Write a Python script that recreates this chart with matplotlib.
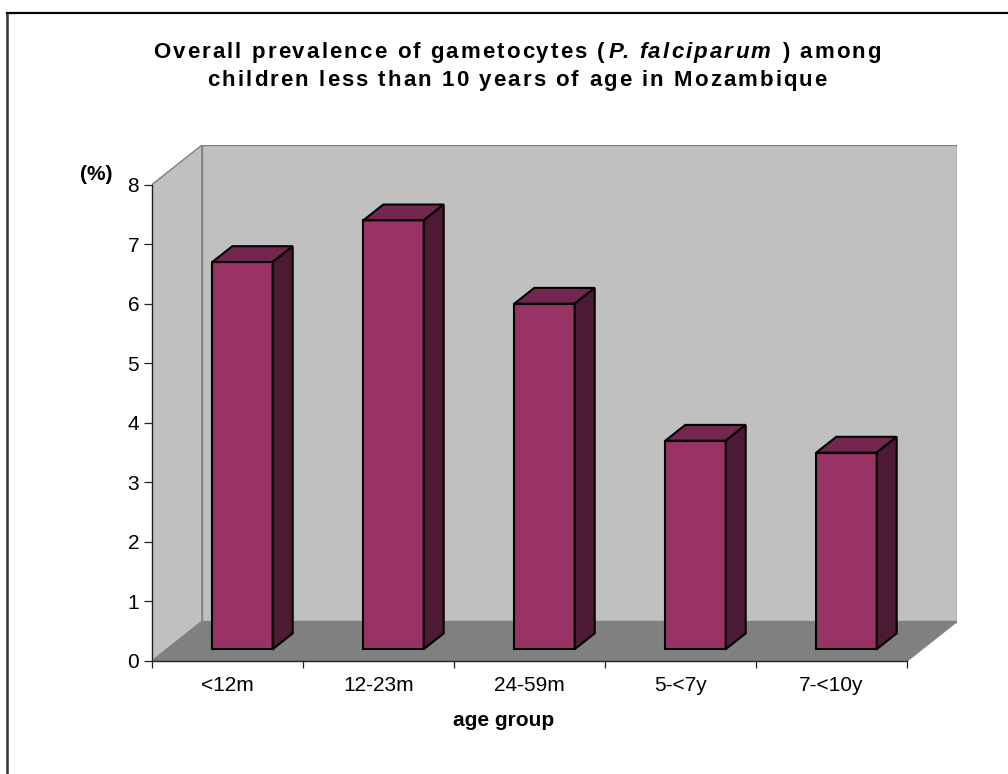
import matplotlib
matplotlib.use("Agg")
import matplotlib.pyplot as plt
from matplotlib.patches import Polygon
from matplotlib.lines import Line2D
from matplotlib.font_manager import FontProperties

# Data
categories = ["<12m", "12-23m", "24-59m", "5-<7y", "7-<10y"]
prevalence = [6.5, 7.2, 5.8, 3.5, 3.3]
y_ticks = [0, 1, 2, 3, 4, 5, 6, 7, 8]

W, H = 1008, 774
FONT = "Liberation Sans"
LABEL_SIZE = 15

fig = plt.figure(figsize=(W / 100, H / 100), dpi=100)
fig.patch.set_facecolor("white")

# Oblique 3D projection: depth offset expressed in data units
DX = 50 / 151.0     # horizontal shift of the back plane (category units)
DY = 39.5 / 59.56   # vertical shift of the back plane (value units)
n = len(categories)
ymax = 8

# Axes placed so the front plane spans the visible axis lines
left_px, right_px = 152, 152 + (n + DX) * 151
bottom_px = H - 661
top_px = bottom_px + (ymax + DY) * 59.56
ax = fig.add_axes([left_px / W, bottom_px / H,
                   (right_px - left_px) / W, (top_px - bottom_px) / H])
ax.set_xlim(0, n + DX)
ax.set_ylim(0, ymax + DY)
ax.patch.set_visible(False)

wall_c = "#c0c0c0"
floor_c = "#808080"
edge_c = "#808080"

# Side wall, back wall and floor
side = Polygon([(0, 0), (DX, DY), (DX, ymax + DY), (0, ymax)],
               closed=True, fc=wall_c, ec=edge_c, lw=1.0, zorder=1)
back = Polygon([(DX, DY), (n + DX, DY), (n + DX, ymax + DY), (DX, ymax + DY)],
               closed=True, fc=wall_c, ec=edge_c, lw=1.0, zorder=1)
floor = Polygon([(0, 0), (n, 0), (n + DX, DY), (DX, DY)],
                closed=True, fc=floor_c, ec=edge_c, lw=1.0, zorder=1)
for p in (side, back, floor):
    ax.add_patch(p)

# 3D bars
front_c, top_c, side_c = "#993366", "#732650", "#4c1a33"
f0, f1 = 0.3, 0.7
half = 0.2
bar_lw = 1.5
for i, v in enumerate(prevalence):
    c = i + 0.5
    xl, xr = c - half + f0 * DX, c + half + f0 * DX
    y0 = f0 * DY
    ddx, ddy = (f1 - f0) * DX, (f1 - f0) * DY
    front = Polygon([(xl, y0), (xr, y0), (xr, y0 + v), (xl, y0 + v)],
                    closed=True, fc=front_c, ec="black", lw=bar_lw, zorder=3,
                    joinstyle="miter")
    top = Polygon([(xl, y0 + v), (xr, y0 + v), (xr + ddx, y0 + v + ddy),
                   (xl + ddx, y0 + v + ddy)],
                  closed=True, fc=top_c, ec="black", lw=bar_lw, zorder=3,
                  joinstyle="miter")
    rside = Polygon([(xr, y0), (xr + ddx, y0 + ddy), (xr + ddx, y0 + v + ddy),
                     (xr, y0 + v)],
                    closed=True, fc=side_c, ec="black", lw=bar_lw, zorder=3,
                    joinstyle="miter")
    for p in (front, top, rside):
        ax.add_patch(p)

# Axis lines and ticks
for s in ("top", "right"):
    ax.spines[s].set_visible(False)
ax.spines["left"].set_bounds(0, ymax)
ax.spines["bottom"].set_bounds(0, n)
for s in ("left", "bottom"):
    ax.spines[s].set_color("#222222")
    ax.spines[s].set_linewidth(1.0)
    ax.spines[s].set_zorder(2.5)

ax.set_yticks(y_ticks)
ax.set_yticklabels([str(t) for t in y_ticks], fontsize=LABEL_SIZE, family=FONT)
ax.tick_params(axis="y", direction="out", length=5.8, width=0.9, pad=3.4,
               color="#222222")
ax.set_xticks(range(n + 1))
ax.set_xticklabels([""] * (n + 1))
ax.set_xticks([i + 0.5 for i in range(n)], minor=True)
ax.set_xticklabels(categories, minor=True, fontsize=LABEL_SIZE, family=FONT)
ax.tick_params(axis="x", which="major", direction="out", length=5, width=0.9,
               color="#222222")
ax.tick_params(axis="x", which="minor", length=0, pad=11)

# Axis titles
fig.text(96 / W, 1 - 175 / H, "(%)", fontsize=LABEL_SIZE, fontweight="bold",
         family=FONT, ha="center", va="center")
fig.text(504 / W, 1 - 720 / H, "age group", fontsize=LABEL_SIZE,
         fontweight="bold", family=FONT, ha="center", va="center")


# Title drawn glyph by glyph so the letters can be spaced out a little
def tracked_line(runs, baseline_px, size, track_px, center_px):
    renderer = fig.canvas.get_renderer()

    def width(s, props):
        return renderer.get_text_width_height_descent(s, props, ismath=False)[0]

    placements = []   # (x offset px, char, props)
    cursor = 0.0
    for k, (run, style) in enumerate(runs):
        props = FontProperties(family=FONT, weight="bold", style=style,
                               size=size)
        lead = len(run) - len(run.lstrip(" "))
        body = run.lstrip(" ")
        if k > 0:
            space_w = width("X X", props) - width("XX", props)
            cursor += lead * (space_w + track_px) + track_px + 1.5
        for i, ch in enumerate(body):
            if ch == " ":
                continue
            pos = width(body[:i + 1], props) - width(ch, props)
            placements.append((cursor + pos + track_px * i, ch, props))
        cursor += width(body, props) + track_px * (len(body) - 1)
    x0 = center_px - cursor / 2
    for off, ch, props in placements:
        fig.text((x0 + off) / W, 1 - baseline_px / H, ch, fontproperties=props,
                 ha="left", va="baseline")


title_size = 16
tracking = 2.1
title_center = 517
tracked_line([("Overall prevalence of gametocytes (", "normal"),
              ("P. falciparum", "italic"),
              (" ) among", "normal")], 58, title_size, tracking, title_center)
tracked_line([("children less than 10 years of age in Mozambique", "normal")],
             86, title_size, tracking, title_center)

# Chart-area frame (left and top edges)
fig.add_artist(Line2D([7 / W, 7 / W], [0, 1 - 13 / H], transform=fig.transFigure,
                      color="#333333", lw=1.8))
fig.add_artist(Line2D([7 / W, 1], [1 - 13 / H, 1 - 13 / H],
                      transform=fig.transFigure, color="black", lw=1.6))

fig.savefig("out.png", dpi=100)
